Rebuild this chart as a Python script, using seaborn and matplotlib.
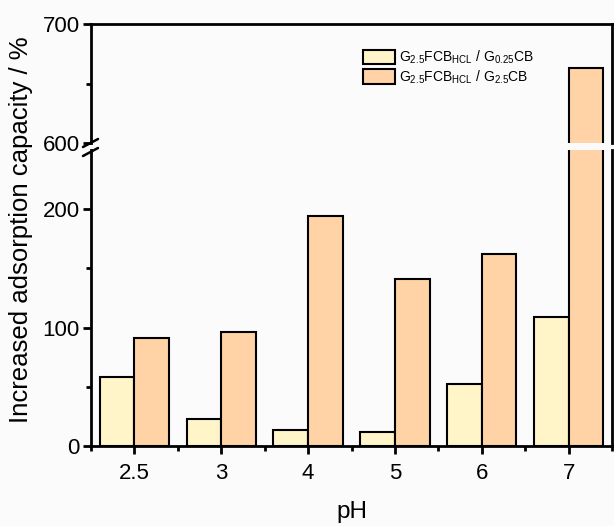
import matplotlib
matplotlib.use("Agg")
import matplotlib.pyplot as plt
import seaborn as sns
import pandas as pd
import numpy as np

ph_labels = ["2.5", "3", "4", "5", "6", "7"]
ratio_low = [58, 23, 13.5, 12, 52, 109]     # G2.5FCB_HCL / G0.25CB
ratio_high = [91.5, 96, 194, 141, 162, 663]  # G2.5FCB_HCL / G2.5CB
series_names = [r"G$_{2.5}$FCB$_{\mathrm{HCL}}$ / G$_{0.25}$CB",
                r"G$_{2.5}$FCB$_{\mathrm{HCL}}$ / G$_{2.5}$CB"]
colors = ["#FFF5C8", "#FFD3A6"]

df = pd.DataFrame({
    "pH": ph_labels * 2,
    "value": ratio_low + ratio_high,
    "series": [series_names[0]] * len(ph_labels) + [series_names[1]] * len(ph_labels),
})

sns.set_style("white")
plt.rcParams["font.family"] = ["Liberation Sans", "DejaVu Sans"]
plt.rcParams["mathtext.fontset"] = "custom"
plt.rcParams["mathtext.rm"] = "Liberation Sans"
plt.rcParams["mathtext.it"] = "Liberation Sans:italic"
plt.rcParams["mathtext.bf"] = "Liberation Sans:bold"
plt.rcParams["text.color"] = "black"
plt.rcParams["axes.labelcolor"] = "black"
plt.rcParams["xtick.color"] = "black"
plt.rcParams["ytick.color"] = "black"

W, H = 614, 526
fig = plt.figure(figsize=(W / 100, H / 100), dpi=100)
fig.patch.set_facecolor("#FBFBFB")

left = 91 / W
right = 612 / W
ax_low = fig.add_axes([left, 1 - 446 / H, right - left, (446 - 150) / H])
ax_up = fig.add_axes([left, 1 - 143 / H, right - left, (143 - 24) / H])

for ax in (ax_low, ax_up):
    sns.barplot(data=df, x="pH", y="value", hue="series", order=ph_labels,
                hue_order=series_names, palette=colors, width=0.8,
                edgecolor="black", linewidth=1.5, saturation=1,
                legend=False, ax=ax, errorbar=None)
    ax.set_facecolor("none")
    ax.set_xlim(-0.5, 5.5)
    for s in ax.spines.values():
        s.set_linewidth(2.0)
        s.set_color("black")
    ax.set_xlabel("")
    ax.set_ylabel("")

ax_low.set_ylim(0, 250)
ax_up.set_ylim(600, 700)

ax_low.spines["top"].set_visible(False)
ax_up.spines["bottom"].set_visible(False)

ax_low.set_yticks([0, 100, 200])
ax_low.set_yticks([50, 150], minor=True)
ax_up.set_yticks([600, 700])
ax_up.set_yticks([650], minor=True)

ax_low.set_xticks(range(len(ph_labels)))
ax_low.set_xticklabels(ph_labels)
ax_low.set_xticks(np.arange(-0.5, 5.6, 1.0), minor=True)
ax_up.set_xticks([])
ax_up.tick_params(axis="x", which="both", bottom=False, labelbottom=False)

for ax in (ax_low, ax_up):
    ax.tick_params(axis="y", which="major", direction="out", length=6, width=2.0,
                   left=True, labelsize=16, pad=2, colors="black")
    ax.tick_params(axis="y", which="minor", direction="out", length=3.5, width=2.0,
                   left=True, colors="black")
ax_low.tick_params(axis="x", which="major", direction="out", length=6, width=2.0,
                   bottom=True, labelsize=16, pad=6, colors="black")
ax_low.tick_params(axis="x", which="minor", direction="out", length=3.5, width=2.0,
                   bottom=True, colors="black")

# break marks on the left axis
for yy in (143, 152):
    y0 = 1 - (yy + 4) / H
    y1 = 1 - (yy - 4) / H
    fig.add_artist(plt.Line2D([83 / W, 98 / W], [y0, y1], color="black", lw=1.8))

fig.text(352 / W, 1 - 523 / H, "pH", ha="center", va="bottom", fontsize=17.5,
         color="black")
fig.text(21 / W, 1 - 230 / H, "Increased adsorption capacity / %", rotation=90,
         ha="center", va="center", fontsize=18.5, color="black")

handles = [ax_up.containers[0], ax_up.containers[1]]
leg = fig.legend(handles, series_names, loc="upper left",
                 bbox_to_anchor=(353 / W, 1 - 39 / H), frameon=False, fontsize=10,
                 handlelength=2.3, handleheight=1.2, handletextpad=0.3,
                 labelspacing=0.15, borderpad=0.2)
for t in leg.get_texts():
    t.set_color("black")

fig.savefig("out.png", dpi=100, facecolor=fig.get_facecolor())
